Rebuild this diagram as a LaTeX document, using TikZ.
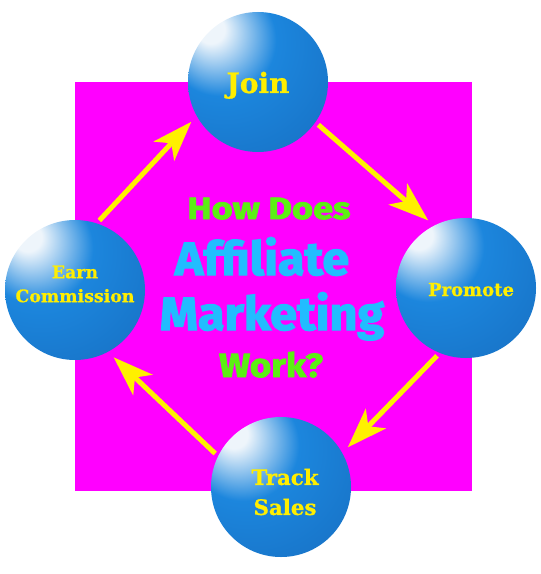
\documentclass[tikz,border=0pt]{standalone}
\usepackage{fontspec}
\usetikzlibrary{arrows.meta,positioning,calc}
\newfontfamily\titlefont{Fira Sans}[BoldFeatures={FakeBold=2.5}]
\newfontfamily\orbfont{DejaVu Serif}[BoldFeatures={FakeBold=0.8}]
\definecolor{PageMagenta}{HTML}{FF00FF}
\definecolor{ArrowYellow}{HTML}{FFF000}
\definecolor{LabelYellow}{HTML}{FFEE00}
\definecolor{TitleGreen}{HTML}{5CF014}
\definecolor{TitleCyan}{HTML}{22BCFF}
\definecolor{OrbHigh}{HTML}{EEF5FB}
\definecolor{OrbMid}{HTML}{1C86DD}
\definecolor{OrbDeep}{HTML}{1874C8}
\definecolor{OrbDark}{HTML}{114C90}
\definecolor{OrbRim}{HTML}{5592CC}
\pgfdeclareradialshading{orbshade}{\pgfpoint{-18bp}{20bp}}{%
  color(0bp)=(OrbHigh); color(5bp)=(OrbHigh); color(20bp)=(OrbMid);
  color(42bp)=(OrbDeep); color(54bp)=(OrbDark); color(64bp)=(OrbRim);
  color(80bp)=(OrbRim)}

\tikzset{
  orb/.style={circle, minimum size=105pt, inner sep=0pt, outer sep=0pt,
    shading=orbshade},
  orblabel/.style={text=LabelYellow, align=center, inner sep=0pt},
  flow/.style={ArrowYellow, line width=3.75pt,
    -{Stealth[length=30pt,width=21pt,inset=8pt]},
    shorten <=3pt, shorten >=6pt},
  headline/.style={anchor=base, inner sep=0pt}
}
\newcommand{\titlesize}[1]{\titlefont\bfseries\fontsize{#1}{#1}\selectfont}
\newcommand{\orbsize}[2]{\orbfont\bfseries\fontsize{#1}{#2}\selectfont}

\begin{document}
\begin{tikzpicture}[x=0.75pt,y=-0.75pt]
  \useasboundingbox (0,0) rectangle (540,574);
  \fill[PageMagenta] (75,82) rectangle (472,491);
  % title in the middle
  \node[headline,text=TitleGreen,font=\titlesize{23}] (howdoes) at (269,219) {\scalebox{1.18}[1]{How Does}};
  \node[headline,text=TitleCyan,font=\titlesize{35}] (affiliate) at (262,275) {\scalebox{1.04}[1]{Affiliate}};
  \node[headline,text=TitleCyan,font=\titlesize{35}] (marketing) at (272,330) {\scalebox{1.04}[1]{Marketing}};
  \node[headline,text=TitleGreen,font=\titlesize{25}] (work) at (271,377) {\scalebox{1.1}[1]{Work?}};
  % the four steps
  \node[orb] (join) at (258,82) {};
  \node[orb] (promote) at (466,288) {};
  \node[orb] (track) at (281,487) {};
  \node[orb] (earn) at (75,290) {};
  \node[orblabel,anchor=base,font=\orbsize{21}{21}] (joinlabel) at (258,93) {Join};
  \node[orblabel,anchor=base,font=\orbsize{13.5}{16}] (promotelabel) at (471,296) {Promote};
  \node[orblabel,font=\orbsize{16}{22.5}] (tracklabel) at (285,492) {Track\\Sales};
  \node[orblabel,font=\orbsize{13}{18}] (earnlabel) at (75,284) {Earn\\Commission};
  % arrows round the cycle
  \draw[flow] (join.-35) -- (promote.117);
  \draw[flow] (promote.-112) -- (track.29);
  \draw[flow] (track.154) -- (earn.-62);
  \draw[flow] (earn.72) -- (join.-151);
\end{tikzpicture}
\end{document}
